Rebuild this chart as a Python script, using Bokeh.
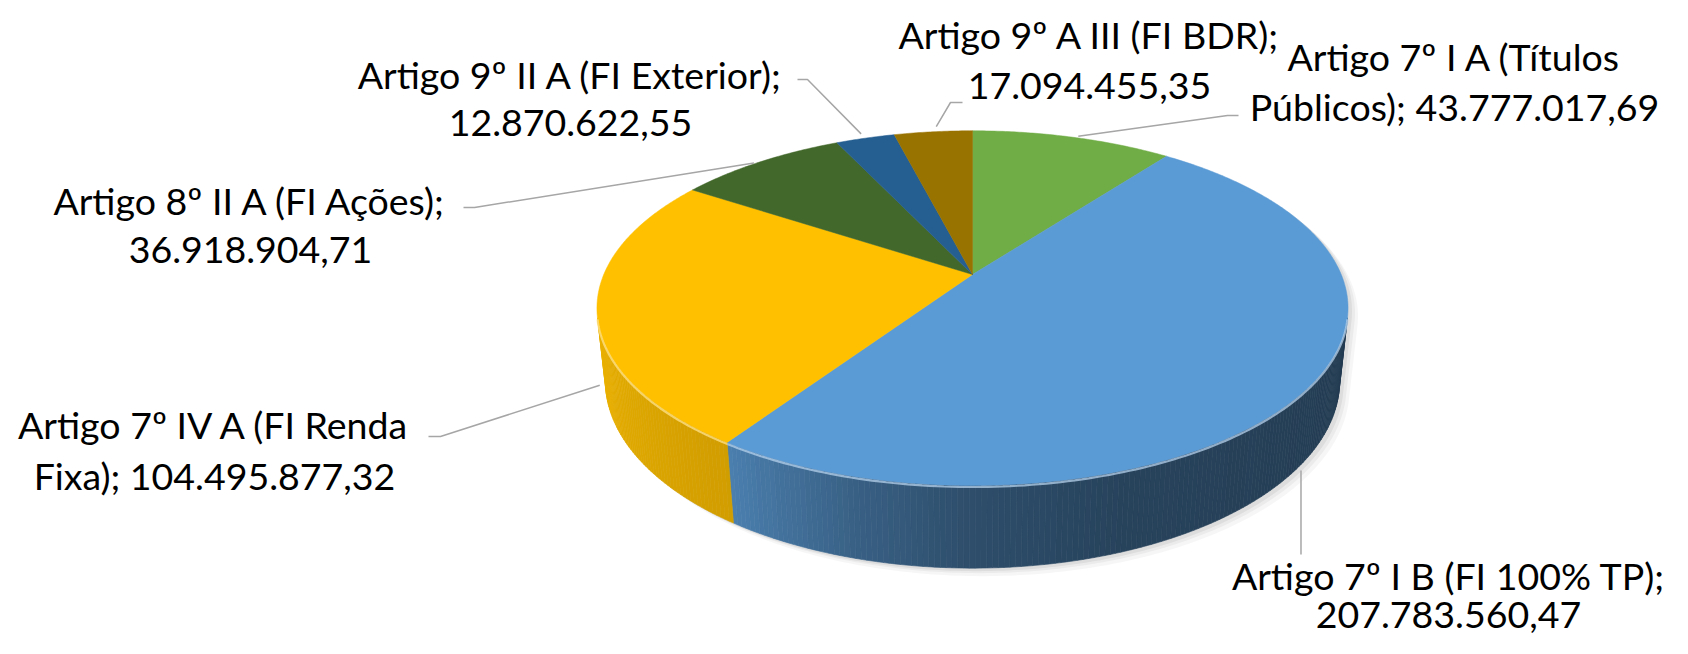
import numpy as np
from bokeh.plotting import figure
from bokeh.models import Range1d
from bokeh.embed import file_html
from bokeh.resources import INLINE
from bokeh.core.properties import value

# ---------------- data ----------------
categories = [
    "Artigo 7º I A (Títulos Públicos)",
    "Artigo 7º I B (FI 100% TP)",
    "Artigo 7º IV A (FI Renda Fixa)",
    "Artigo 8º II A (FI Ações)",
    "Artigo 9º II A (FI Exterior)",
    "Artigo 9º A III (FI BDR)",
]
values = [43777017.69, 207783560.47, 104495877.32, 36918904.71, 12870622.55, 17094455.35]
colors = ["#70AD47", "#5B9BD5", "#FFC000", "#43682B", "#255E91", "#997300"]

# ---------------- layout (label placement) ----------------
wrap_words = [5, 7, 6, 6, 6, 6]
label_x = [1454, 1448, 214, 250, 570, 1089]
label_y1 = [56, 575, 424, 200, 74, 34]
label_y2 = [106, 614, 475, 249, 122, 85]
leader_pts = [
    [(1227, 115), (1238, 115)],
    [(None, 554)],
    [(440, 436), (428, 436)],
    [(474, 207), (463, 207)],
    [(807, 79), (797, 79)],
    [(950, 102), (962, 102)],
]

# ---------------- 3D projection ----------------
CX, CY = 972.0, 274.0
F = 1722.0
D = 4.67
CA = 0.886
SA = np.sqrt(1 - CA ** 2)
H = 0.225


def proj(X, Y, Z):
    X = np.asarray(X, float)
    Y = np.asarray(Y, float)
    Z = np.asarray(Z, float) + 0 * X
    depth = D + Y * CA - Z * SA
    up = Y * SA + Z * CA
    return CX + F * X / depth, CY - F * up / depth


def rim(th_deg, z):
    t = np.radians(th_deg)
    return proj(np.sin(t), np.cos(t), z)


def hex2rgb(h):
    h = h.lstrip("#")
    return np.array([int(h[i:i + 2], 16) for i in (0, 2, 4)], float)


def rgb2hex(c):
    c = np.clip(np.round(c), 0, 255).astype(int)
    return "#%02x%02x%02x" % tuple(c)


def fmt(v):
    s = f"{v:,.2f}"
    return s.replace(",", "_").replace(".", ",").replace("_", ".")


total = float(np.sum(values))
frac = np.array(values) / total
ends = np.cumsum(frac) * 360.0
starts = ends - frac * 360.0

phi_s = np.degrees(np.arccos(-1.0 / (D * CA)))  # silhouette angle
vis_lo, vis_hi = phi_s, 360.0 - phi_s


def shade(phi):
    return np.interp(phi, [104, 160, 180, 195, 214, 240, 256],
                     [0.38, 0.43, 0.50, 0.62, 0.82, 0.88, 0.92])


p = figure(width=1672, height=638, x_range=Range1d(0, 1672), y_range=Range1d(638, 0),
           output_backend="svg", toolbar_location=None, min_border=0,
           x_axis_type=None, y_axis_type=None)
p.grid.visible = False
p.outline_line_color = None
p.background_fill_color = "white"
p.border_fill_color = "white"

# ---- soft shadow ----
sil_th = np.concatenate([np.linspace(vis_lo - 360, vis_lo, 400), np.linspace(vis_lo, vis_hi, 200)])
sil_z = np.concatenate([np.zeros(400), np.full(200, -H)])
t = np.radians(sil_th)
sx, sy = proj(np.sin(t), np.cos(t), sil_z)
for dx, dy, a in [(10, 8, 0.035), (7, 5, 0.045), (4, 3, 0.06)]:
    p.patch(list(sx + dx), list(sy + dy), fill_color="#000000", fill_alpha=a, line_color=None)

# ---- sides ----
side_xs, side_ys, side_cols = [], [], []
for i in range(len(values)):
    a0, a1 = max(starts[i], vis_lo), min(ends[i], vis_hi)
    if a1 <= a0:
        continue
    n = max(2, int(np.ceil((a1 - a0) / 0.75)))
    edges = np.linspace(a0, a1, n + 1)
    base = hex2rgb(colors[i])
    for j in range(n):
        e0, e1 = edges[j], edges[j + 1]
        th = np.array([e0, e1])
        xt, yt = rim(th, 0.0)
        xb, yb = rim(th[::-1], -H)
        side_xs.append(list(np.concatenate([xt, xb])))
        side_ys.append(list(np.concatenate([yt, yb])))
        side_cols.append(rgb2hex(base * shade(0.5 * (e0 + e1))))
p.patches(side_xs, side_ys, fill_color=side_cols, line_color=side_cols, line_width=0.6)

# ---- top faces ----
top_xs, top_ys = [], []
for i in range(len(values)):
    th = np.linspace(starts[i], ends[i], max(3, int((ends[i] - starts[i]) * 2)))
    xr, yr = rim(th, 0.0)
    top_xs.append([CX] + list(xr))
    top_ys.append([CY] + list(yr))
p.patches(top_xs, top_ys, fill_color=colors, line_color=colors, line_width=0.5)

# ---- rim highlight (bevel) ----
for i in range(len(values)):
    a0, a1 = max(starts[i], vis_lo), min(ends[i], vis_hi)
    if a1 <= a0:
        continue
    th = np.linspace(a0, a1, 120)
    xr, yr = rim(th, 0.0)
    light = rgb2hex(0.45 * hex2rgb(colors[i]) + 0.55 * 255)
    p.line(list(xr), list(yr + 1.5), line_color=light, line_width=2.2, line_alpha=0.75)

# ---- leader lines ----
lx, ly = [], []
for i in range(len(values)):
    mid = 0.5 * (starts[i] + ends[i])
    on_side = np.cos(np.radians(mid)) < 0
    ax, ay = rim(np.array([mid]), -H if on_side else 0.0)
    ax, ay = float(ax[0]), float(ay[0])
    pts = [(px if px is not None else ax, py) for px, py in leader_pts[i]]
    vx, vy = pts[0][0] - ax, pts[0][1] - ay
    L = np.hypot(vx, vy)
    gap = 6.0
    sx0, sy0 = ax + vx / L * gap, ay + vy / L * gap
    lx.append([sx0] + [q[0] for q in pts])
    ly.append([sy0] + [q[1] for q in pts])
p.multi_line(lx, ly, line_color="#A6A6A6", line_width=1.5)

# ---- labels ----
tx, ty, tt = [], [], []
for i in range(len(values)):
    words = f"{categories[i]}; {fmt(values[i])}".split(" ")
    w = wrap_words[i]
    tx += [label_x[i], label_x[i]]
    ty += [label_y1[i], label_y2[i]]
    tt += [" ".join(words[:w]), " ".join(words[w:])]
p.text(tx, ty, text=tt, text_align="center", text_baseline="middle",
       text_font=value("Lato"), text_font_size="37.5px", text_color="#000000")

open("out.html", "w").write(file_html(p, INLINE))
